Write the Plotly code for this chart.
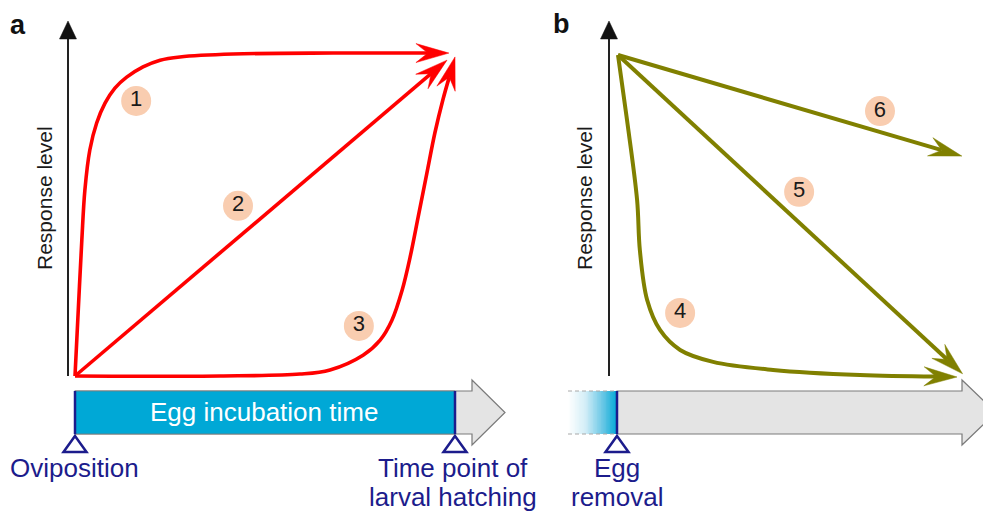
import math
import plotly.graph_objects as go

W, H = 983, 515

# ---------------- data (time fraction, response level) ----------------
# Panel a: response increases from oviposition to larval hatching
a1_t = [0, 0.009, 0.018, 0.026, 0.039, 0.057, 0.079, 0.105, 0.136, 0.179, 0.224, 0.276, 0.416, 0.679, 0.984]
a1_r = [0, 0.215, 0.424, 0.579, 0.704, 0.788, 0.850, 0.897, 0.931, 0.963, 0.984, 0.994, 1.003, 1.006, 1.006]
a2_t = [0, 0.979]
a2_r = [0, 0.984]
a3_t = [0, 0.382, 0.592, 0.671, 0.758, 0.803, 0.834, 0.861, 0.882, 0.903, 0.926, 0.947, 0.968, 1.000]
a3_r = [0, 0.000, 0.006, 0.019, 0.065, 0.112, 0.174, 0.268, 0.371, 0.495, 0.632, 0.757, 0.860, 0.994]

# Panel b: response decays after egg removal
b4_t = [0, 0.026, 0.055, 0.063, 0.084, 0.121, 0.179, 0.274, 0.447, 0.697, 0.977]
b4_r = [1, 0.798, 0.550, 0.394, 0.239, 0.146, 0.084, 0.047, 0.022, 0.006, 0.000]
b5_t = [0, 0.993]
b5_r = [1, 0.010]
b6_t = [0, 0.991]
b6_r = [1, 0.686]

# number badges
a_badges = ["1", "2", "3"]
a_badge_t = [0.161, 0.429, 0.747]
a_badge_r = [0.857, 0.530, 0.156]
b_badges = ["4", "5", "6"]
b_badge_t = [0.179, 0.522, 0.755]
b_badge_r = [0.199, 0.575, 0.826]

# text labels
panel_labels = ["a", "b"]
y_title = "Response level"
bar_label = "Egg incubation time"
a_start_label = ["Oviposition"]
a_end_label = ["Time point of", "larval hatching"]
b_start_label = ["Egg", "removal"]

# ---------------- styling / layout anchors (pixels) ----------------
RED = "#FF0000"
OLIVE = "#808000"
NAVY = "#1C1C8C"
BLUE = "#00A8D6"
GREYFILL = "#E4E4E4"
GREYLINE = "#7A7A7A"
BADGE = "#F9CDB0"
FONT = "Arial, Liberation Sans, sans-serif"

A = dict(X0=75, XS=380, Y0=376, YS=321)
B = dict(X0=618, XS=347, Y0=377, YS=322)


def xr(p):
    return [(0 - p["X0"]) / p["XS"], (W - p["X0"]) / p["XS"]]


def yr(p):
    return [(p["Y0"] - H) / p["YS"], p["Y0"] / p["YS"]]


def PX(px):
    return px / W


def PY(py):
    return 1 - py / H


def head(t, r, p, L=33, hw=9.5, notch=21):
    px = [p["X0"] + p["XS"] * v for v in t[-2:]]
    py = [p["Y0"] - p["YS"] * v for v in r[-2:]]
    dx, dy = px[1] - px[0], py[1] - py[0]
    n = math.hypot(dx, dy)
    ux, uy = dx / n, dy / n
    tx, ty = px[1], py[1]
    bx, by = tx - L * ux, ty - L * uy
    pts = [(tx, ty), (bx - hw * uy, by + hw * ux), (tx - notch * ux, ty - notch * uy),
           (bx + hw * uy, by - hw * ux), (tx, ty)]
    ht = [(x - p["X0"]) / p["XS"] for x, _ in pts]
    hr = [(p["Y0"] - y) / p["YS"] for _, y in pts]
    return ht, hr, ht[2], hr[2]


fig = go.Figure()

# faded blue lead-in for panel b (drawn as a smooth heatmap gradient)
top, bot, htop, hbot, mid = 391, 434, 380, 445, 412.5
gx0, gx1 = 568, 617
NG = 60
g_x = [(gx0 + (gx1 - gx0) * i / NG - B["X0"]) / B["XS"] for i in range(NG + 1)]
g_y = [(B["Y0"] - bot) / B["YS"], (B["Y0"] - top) / B["YS"]]
g_z = [[(i + 0.5) / NG for i in range(NG)]]
fig.add_trace(go.Heatmap(x=g_x, y=g_y, z=g_z, xaxis="x2", yaxis="y2", showscale=False,
                         zmin=0, zmax=1, hoverinfo="skip",
                         colorscale=[[0, "#FFFFFF"], [0.35, "#D4EEF7"], [0.7, "#6CC8E6"], [1, BLUE]]))


def add_curve(t, r, p, color, xa, ya, width=3.6):
    ht, hr, nt, nr = head(t, r, p)
    fig.add_trace(go.Scatter(x=t[:-1] + [nt], y=r[:-1] + [nr], mode="lines",
                             line=dict(color=color, width=width, shape="spline", smoothing=1.0),
                             xaxis=xa, yaxis=ya, hoverinfo="skip", showlegend=False))
    fig.add_trace(go.Scatter(x=ht, y=hr, mode="lines", fill="toself", fillcolor=color,
                             line=dict(color=color, width=0.5), xaxis=xa, yaxis=ya,
                             hoverinfo="skip", showlegend=False))


for t, r in [(a1_t, a1_r), (a2_t, a2_r), (a3_t, a3_r)]:
    add_curve(t, r, A, RED, "x", "y")
for t, r in [(b4_t, b4_r), (b5_t, b5_r), (b6_t, b6_r)]:
    add_curve(t, r, B, OLIVE, "x2", "y2", width=4)

fig.add_trace(go.Scatter(x=a_badge_t, y=a_badge_r, mode="markers+text", text=a_badges,
                         textposition="middle center",
                         textfont=dict(family=FONT, size=22, color="#1a1a1a"),
                         marker=dict(size=30, color=BADGE, line=dict(width=0)),
                         xaxis="x", yaxis="y", hoverinfo="skip", showlegend=False))
fig.add_trace(go.Scatter(x=b_badge_t, y=b_badge_r, mode="markers+text", text=b_badges,
                         textposition="middle center",
                         textfont=dict(family=FONT, size=22, color="#1a1a1a"),
                         marker=dict(size=30, color=BADGE, line=dict(width=0)),
                         xaxis="x2", yaxis="y2", hoverinfo="skip", showlegend=False))

shapes = []


def poly(pts, fill, line, lw=1.0, dash=None, layer="below"):
    d = "M " + " L ".join(f"{PX(x):.5f},{PY(y):.5f}" for x, y in pts) + " Z"
    ln = dict(color=line, width=lw)
    if dash:
        ln["dash"] = dash
    shapes.append(dict(type="path", xref="paper", yref="paper", path=d,
                       fillcolor=fill, line=ln, layer=layer))


def seg(x0, y0, x1, y1, color, lw, dash=None, layer="above"):
    ln = dict(color=color, width=lw)
    if dash:
        ln["dash"] = dash
    shapes.append(dict(type="line", xref="paper", yref="paper", x0=PX(x0), y0=PY(y0),
                       x1=PX(x1), y1=PY(y1), line=ln, layer=layer))


# vertical response axes with arrowheads
for ax_x in (68, 609):
    seg(ax_x, 376, ax_x, 36, "#222222", 2)
    poly([(ax_x, 21), (ax_x + 8.5, 39), (ax_x - 8.5, 39)], "#111111", "#111111", 0.5, layer="above")

# timeline arrows
poly([(75, top), (472, top), (472, htop), (505, mid), (472, hbot), (472, bot), (75, bot)],
     GREYFILL, GREYLINE, 1.2)
poly([(75, top), (455, top), (455, bot), (75, bot)], BLUE, GREYLINE, 0.8)
poly([(617, top), (962, top), (962, htop), (996, mid), (962, hbot), (962, bot), (617, bot)],
     GREYFILL, GREYLINE, 1.2)

seg(gx0, top, gx1, top, "#A8A8A8", 1, dash="4px,3px", layer="above")
seg(gx0, bot, gx1, bot, "#A8A8A8", 1, dash="4px,3px", layer="above")

# navy time markers
for mx in (75, 455, 617):
    seg(mx, top, mx, bot, NAVY, 2.5)
    poly([(mx, 436), (mx + 11.5, 452), (mx - 11.5, 452)], "rgba(0,0,0,0)", NAVY, 2.5, layer="above")

annotations = []


def txt(s, px, py, size, color, angle=0, bold=False, xanchor="center"):
    annotations.append(dict(text=f"<b>{s}</b>" if bold else s, x=PX(px), y=PY(py),
                            xref="paper", yref="paper", showarrow=False, textangle=angle,
                            xanchor=xanchor, yanchor="middle",
                            font=dict(family=FONT, size=size, color=color)))


txt(panel_labels[0], 18, 25, 27, "#111111", bold=True)
txt(panel_labels[1], 561, 24, 27, "#111111", bold=True)
txt(y_title, 44, 198, 21, "#1a1a1a", angle=-90)
txt(y_title, 584, 198, 21, "#1a1a1a", angle=-90)
txt(bar_label, 264, 412, 26, "#FFFFFF")
txt(a_start_label[0], 74, 468, 26, NAVY)
txt(a_end_label[0], 453, 468, 26, NAVY)
txt(a_end_label[1], 453, 497, 26, NAVY)
txt(b_start_label[0], 617, 468, 26, NAVY)
txt(b_start_label[1], 617, 497, 26, NAVY)

ax_common = dict(visible=False, showgrid=False, zeroline=False, fixedrange=True)
fig.update_layout(
    width=W, height=H, autosize=False,
    margin=dict(l=0, r=0, t=0, b=0, pad=0),
    paper_bgcolor="white", plot_bgcolor="white",
    xaxis=dict(domain=[0, 1], range=xr(A), **ax_common),
    yaxis=dict(domain=[0, 1], range=yr(A), **ax_common),
    xaxis2=dict(range=xr(B), overlaying="x", anchor="y2", **ax_common),
    yaxis2=dict(range=yr(B), overlaying="y", anchor="x2", **ax_common),
    shapes=shapes, annotations=annotations, showlegend=False,
)

fig.write_html("out.html", config=dict(displayModeBar=False))
